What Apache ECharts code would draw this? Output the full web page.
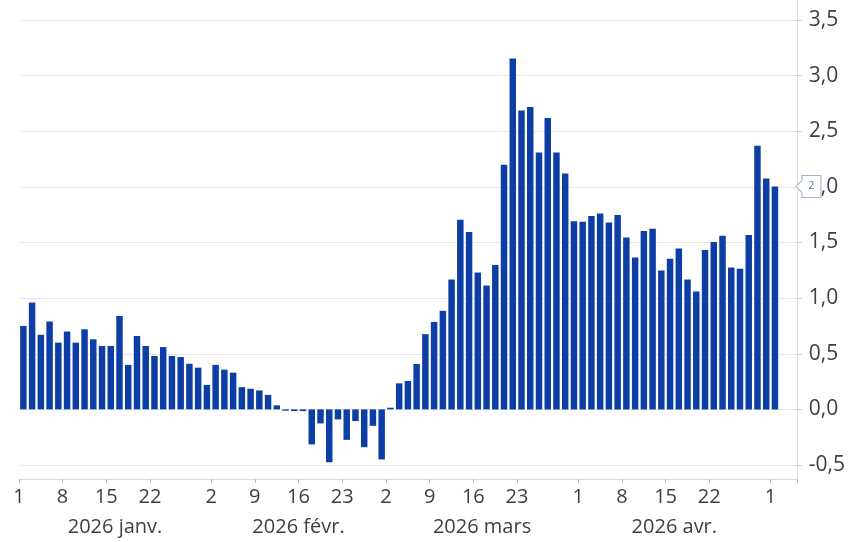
<!DOCTYPE html>
<html>
<head>
<meta charset="utf-8">
<script src="https://cdn.jsdelivr.net/npm/echarts@6/dist/echarts.min.js"></script>
<style>
  html, body { margin: 0; padding: 0; background: #ffffff; }
  #chart { width: 848px; height: 542px; }
</style>
</head>
<body>
<div id="chart"></div>
<script>
// Business days shown on the axis (day of month), per month
const janDays = [1,2,5,6,7,8,9,12,13,14,15,16,19,20,21,22,23,26,27,28,29,30];
const febDays = [2,3,4,5,6,9,10,11,12,13,16,17,18,19,20,23,24,25,26,27];
const marDays = [2,3,4,5,6,9,10,11,12,13,16,17,18,19,20,23,24,25,26,27,30,31];
const aprDays = [1,2,3,6,7,8,9,10,13,14,15,16,17,20,21,22,23,24,27,28,29,30];
const mayDays = [1,4,5];

// Bar values per month
const janVals = [0.75,0.96,0.67,0.79,0.60,0.70,0.60,0.72,0.63,0.57,0.57,0.84,0.40,0.66,0.57,0.48,0.56,0.48,0.47,0.41,0.375,0.22];
const febVals = [0.40,0.357,0.33,0.20,0.185,0.17,0.13,0.036,-0.012,-0.015,-0.015,-0.315,-0.126,-0.475,-0.09,-0.274,-0.105,-0.34,-0.148,-0.45];
const marVals = [0.015,0.234,0.255,0.408,0.676,0.786,0.886,1.168,1.705,1.594,1.23,1.113,1.297,2.20,3.153,2.687,2.717,2.309,2.62,2.309,2.12,1.69];
const aprVals = [1.687,1.739,1.76,1.68,1.748,1.546,1.366,1.603,1.624,1.249,1.354,1.447,1.168,1.06,1.432,1.505,1.561,1.276,1.264,1.567,2.37,2.075];
const mayVals = [2.003, null, null];

// Tick labels (weekly) and month labels
const tickDates = ['2026-01-01','2026-01-08','2026-01-15','2026-01-22','2026-02-02','2026-02-09','2026-02-16','2026-02-23',
                   '2026-03-02','2026-03-09','2026-03-16','2026-03-23','2026-04-01','2026-04-08','2026-04-15','2026-04-22','2026-05-01'];
const monthNames = ['2026 janv.','2026 févr.','2026 mars','2026 avr.'];
const yTicks = { min: -0.5, max: 3.5, interval: 0.5 };

// ---- build
const months = [['01', janDays, janVals], ['02', febDays, febVals], ['03', marDays, marVals], ['04', aprDays, aprVals], ['05', mayDays, mayVals]];
const categories = [];
const values = [];
const monthCenterIdx = [];
months.forEach(([mm, days, vals], mi) => {
  const start = categories.length;
  days.forEach((d, i) => {
    categories.push('2026-' + mm + '-' + String(d).padStart(2, '0'));
    values.push(vals[i]);
  });
  if (mi < monthNames.length) monthCenterIdx.push(start + Math.floor(days.length / 2));
});
const tickIdx = new Set(tickDates.map(d => categories.indexOf(d)));
const monthLabelMap = {};
monthCenterIdx.forEach((idx, i) => { monthLabelMap[idx] = monthNames[i]; });
let lastIdx = values.length - 1;
while (values[lastIdx] == null) lastIdx--;
const lastVal = values[lastIdx];

const FONT = "'Open Sans', 'Noto Sans', sans-serif";
const TXT = '#3f3f3f';

const chart = echarts.init(document.getElementById('chart'), null, { renderer: 'canvas' });
chart.setOption({
  animation: false,
  backgroundColor: '#ffffff',
  grid: [
    { left: 19, right: 51, top: 20, bottom: 77, containLabel: false },
    { left: 19, right: 51, top: 0, bottom: 63, containLabel: false }
  ],
  xAxis: [
    {
      type: 'category', gridIndex: 0, data: categories, position: 'bottom', offset: 14,
      boundaryGap: true,
      axisLine: { show: true, onZero: false, lineStyle: { color: '#d9d9d9', width: 1 } },
      axisTick: { show: true, alignWithLabel: false, length: 4, interval: (i) => tickIdx.has(i), lineStyle: { color: '#b8b8b8' } },
      axisLabel: {
        interval: (i) => tickIdx.has(i),
        formatter: (v) => String(parseInt(v.slice(8), 10)),
        margin: 8, padding: [0, 9, 0, 0],
        fontSize: 20, fontFamily: FONT, color: TXT
      },
      splitLine: { show: false }
    },
    {
      type: 'category', gridIndex: 0, data: categories, position: 'bottom', offset: 44,
      boundaryGap: true,
      axisLine: { show: false, onZero: false }, axisTick: { show: false },
      axisLabel: {
        interval: (i) => monthLabelMap[i] !== undefined,
        formatter: (v, i) => monthLabelMap[i] || '',
        margin: 8, padding: [0, 9, 0, 0],
        fontSize: 20, fontFamily: FONT, color: TXT
      },
      splitLine: { show: false }
    },
    { type: 'category', gridIndex: 1, data: categories, show: false }
  ],
  yAxis: [
    {
      type: 'value', gridIndex: 0, position: 'right',
      min: yTicks.min, max: yTicks.max, interval: yTicks.interval,
      axisLine: { show: false },
      axisTick: { show: true, length: 5, lineStyle: { color: '#d0d0d0' } },
      axisLabel: {
        margin: 12, fontSize: 21, fontFamily: FONT, color: TXT,
        formatter: (v) => v.toFixed(1).replace('.', ',')
      },
      splitLine: { show: true, lineStyle: { color: '#e6e6e6', width: 1 } }
    },
    {
      type: 'value', gridIndex: 1, position: 'right', min: 0, max: 1,
      axisLine: { show: true, lineStyle: { color: '#e2e2e2', width: 1 } },
      axisTick: { show: false }, axisLabel: { show: false }, splitLine: { show: false }
    }
  ],
  series: [
    {
      type: 'bar', xAxisIndex: 0, yAxisIndex: 0, data: values,
      barCategoryGap: '26%',
      itemStyle: { color: '#0c3ea6' },
      markPoint: {
        silent: true,
        symbol: 'path://M0,11 L6,5 L6,0 L25,0 L25,22 L6,22 L6,17 Z',
        symbolKeepAspect: false,
        symbolSize: [25, 22],
        itemStyle: { color: '#ffffff', borderColor: '#9fb2cc', borderWidth: 1 },
        label: {
          show: true, position: 'inside', offset: [3, 0],
          formatter: () => String(Math.round(lastVal)),
          fontSize: 10, fontFamily: FONT, color: '#5a6f94'
        },
        data: [{ coord: [categories.length - 1, lastVal], symbolOffset: [16, 0] }]
      }
    }
  ]
});
</script>
</body>
</html>
